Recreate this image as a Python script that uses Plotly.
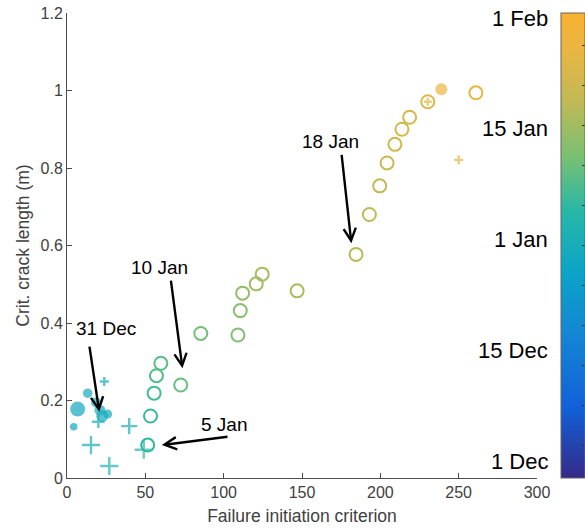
import numpy as np
import pandas as pd
import plotly.graph_objects as go

# ---------------- data ----------------
# open circles
circ_x = [51.5, 53.3, 55.6, 57.1, 59.9, 72.6, 85.4, 109.1, 110.6, 112.1, 120.8, 124.6, 146.9,
          184.5, 193.0, 199.6, 204.3, 209.3, 213.8, 218.7, 230.3, 261.0]
circ_y = [0.085, 0.160, 0.219, 0.264, 0.296, 0.240, 0.373, 0.369, 0.432, 0.477, 0.501, 0.526, 0.483,
          0.577, 0.680, 0.754, 0.813, 0.861, 0.900, 0.931, 0.971, 0.994]
circ_date = ["2017-01-05", "2017-01-06", "2017-01-07", "2017-01-08", "2017-01-09", "2017-01-10",
             "2017-01-11", "2017-01-12", "2017-01-13", "2017-01-14", "2017-01-15", "2017-01-16",
             "2017-01-17", "2017-01-18", "2017-01-19", "2017-01-20", "2017-01-21", "2017-01-22",
             "2017-01-23", "2017-01-24", "2017-01-25", "2017-01-27"]

# filled circles
fill_x = [4.3, 6.8, 13.2, 18.5, 21.0, 22.5, 26.0, 238.9]
fill_y = [0.132, 0.178, 0.219, 0.195, 0.175, 0.160, 0.165, 1.003]
fill_size = [7.5, 15, 9.5, 10, 11, 12, 9, 12]
fill_date = ["2016-12-29", "2016-12-29", "2016-12-30", "2016-12-31", "2016-12-31", "2016-12-31",
             "2016-12-31", "2017-01-28"]

# plus signs
plus_x = [15.3, 20.0, 23.8, 27.0, 39.7, 49.0, 230.3, 250.0]
plus_y = [0.085, 0.145, 0.249, 0.031, 0.134, 0.073, 0.971, 0.821]
plus_size = [13, 9, 6.5, 13, 11.5, 13, 5.8, 6.5]
plus_date = ["2017-01-01", "2016-12-31", "2016-12-31", "2017-01-03", "2017-01-02", "2017-01-05",
             "2017-01-25", "2017-01-26"]

# colorbar ticks (equally spaced labels)
cb_dates = ["2016-12-01", "2016-12-15", "2017-01-01", "2017-01-15", "2017-02-01"]
cb_labels = ["1 Dec", "15 Dec", "1 Jan", "15 Jan", "1 Feb"]
cb_pos = [0.0, 0.25, 0.5, 0.75, 1.0]

# arrow annotations: label text, label pos, arrow tail, arrow tip
ann_text = ["18 Jan", "10 Jan", "31 Dec", "5 Jan"]
ann_label_x = [168.5, 59.0, 25.0, 100.5]
ann_label_y = [0.868, 0.543, 0.387, 0.137]
ann_tail_x = [175.2, 66.2, 14.2, 103.4]
ann_tail_y = [0.838, 0.513, 0.343, 0.107]
ann_tip_x = [181.5, 73.7, 20.6, 60.5]
ann_tip_y = [0.606, 0.283, 0.171, 0.085]

# ---------------- helpers ----------------
ref_days = pd.to_datetime(cb_dates).map(pd.Timestamp.toordinal).to_numpy()


def date_to_pos(dates):
    d = pd.to_datetime(dates).map(pd.Timestamp.toordinal).to_numpy()
    return np.interp(d, ref_days, cb_pos)


CMIN, CMAX = -0.0383, 1.0117
colorscale = [[0.0, '#352a87'], [0.15, '#1160d8'], [0.30, '#1484d4'], [0.44, '#0ba4c8'],
              [0.57, '#26b7a8'], [0.69, '#78c073'], [0.81, '#c1b955'], [0.92, '#e9b643'],
              [1.0, '#f9b231']]

FONT = "Liberation Sans, Arial, Helvetica, sans-serif"
AX_COL = "#4d4d4d"

fig = go.Figure()

fig.add_trace(go.Scatter(
    x=circ_x, y=circ_y, mode="markers",
    marker=dict(symbol="circle-open", size=13, color=date_to_pos(circ_date),
                coloraxis="coloraxis", line=dict(width=2)),
    showlegend=False, hoverinfo="skip"))

fig.add_trace(go.Scatter(
    x=fill_x, y=fill_y, mode="markers",
    marker=dict(symbol="circle", size=fill_size, color=date_to_pos(fill_date),
                coloraxis="coloraxis", line=dict(width=0)),
    showlegend=False, hoverinfo="skip"))

fig.add_trace(go.Scatter(
    x=plus_x, y=plus_y, mode="markers",
    marker=dict(symbol="cross-thin-open", size=plus_size, color=date_to_pos(plus_date),
                coloraxis="coloraxis", line=dict(width=2.4)),
    showlegend=False, hoverinfo="skip"))

# colorbar tick marks (inside)
tick_px = np.arange(11) * 40.0 + 45.0  # pixel spacing of small ticks
cb_tickvals = list((461.0 - tick_px) / 443.5)

fig.update_layout(
    width=585, height=528,
    margin=dict(l=67, r=48, t=13, b=50, autoexpand=False),
    paper_bgcolor="white", plot_bgcolor="white",
    font=dict(family=FONT, color="#404040", size=16),
    coloraxis=dict(
        colorscale=colorscale, cmin=CMIN, cmax=CMAX,
        colorbar=dict(
            x=1.0504, xanchor="left", xpad=0, ypad=0,
            y=0.5, yanchor="middle", len=1.0, lenmode="fraction",
            thickness=24, thicknessmode="pixels",
            outlinewidth=1, outlinecolor="#666666",
            tickmode="array", tickvals=cb_tickvals, ticks="inside", ticklen=3,
            tickcolor="#333333", showticklabels=False,
        ),
    ),
    xaxis=dict(
        range=[0, 300], tickvals=[0, 50, 100, 150, 200, 250, 300],
        showline=True, linecolor=AX_COL, linewidth=1, mirror=False,
        ticks="inside", ticklen=5, tickcolor=AX_COL,
        showgrid=False, zeroline=False, ticklabeloverflow="allow",
        tickfont=dict(size=16, color="#404040"),
        title=dict(text="Failure initiation criterion", font=dict(size=17.5, color="#404040"),
                   standoff=9),
    ),
    yaxis=dict(
        range=[0, 1.2], tickvals=[0, 0.2, 0.4, 0.6, 0.8, 1.0, 1.2],
        ticktext=["0", "0.2", "0.4", "0.6", "0.8", "1", "1.2"],
        showline=True, linecolor=AX_COL, linewidth=1, mirror=False,
        ticks="inside", ticklen=5, tickcolor=AX_COL,
        showgrid=False, zeroline=False, ticklabeloverflow="allow",
        tickfont=dict(size=16, color="#404040"),
        title=dict(text="Crit. crack length (m)", font=dict(size=17.5, color="#404040"),
                   standoff=6),
    ),
)

annotations = []
for t, lx, ly, tx, ty, hx, hy in zip(ann_text, ann_label_x, ann_label_y, ann_tail_x,
                                      ann_tail_y, ann_tip_x, ann_tip_y):
    annotations.append(dict(x=hx, y=hy, ax=tx, ay=ty, xref="x", yref="y", axref="x", ayref="y",
                            text="", showarrow=True, arrowhead=5, arrowwidth=2.4, arrowsize=1,
                            arrowcolor="black"))
    annotations.append(dict(x=lx, y=ly, xref="x", yref="y", text=t, showarrow=False,
                            font=dict(size=19, color="black", family=FONT),
                            xanchor="center", yanchor="middle"))

# colorbar labels placed on the left side of the bar
for lab, p in zip(cb_labels, cb_pos):
    annotations.append(dict(x=1.0266, y=(p - CMIN) / (CMAX - CMIN), xref="paper", yref="paper",
                            text=lab, showarrow=False, xanchor="right", yanchor="middle",
                            font=dict(size=22, color="black", family=FONT)))

fig.update_layout(annotations=annotations)

# remove the default 8px page margin so the figure fills the window exactly
fig.write_html("out.html",
               config={"displayModeBar": False},
               post_script="document.body.style.margin='0';document.body.style.overflow='hidden';")
